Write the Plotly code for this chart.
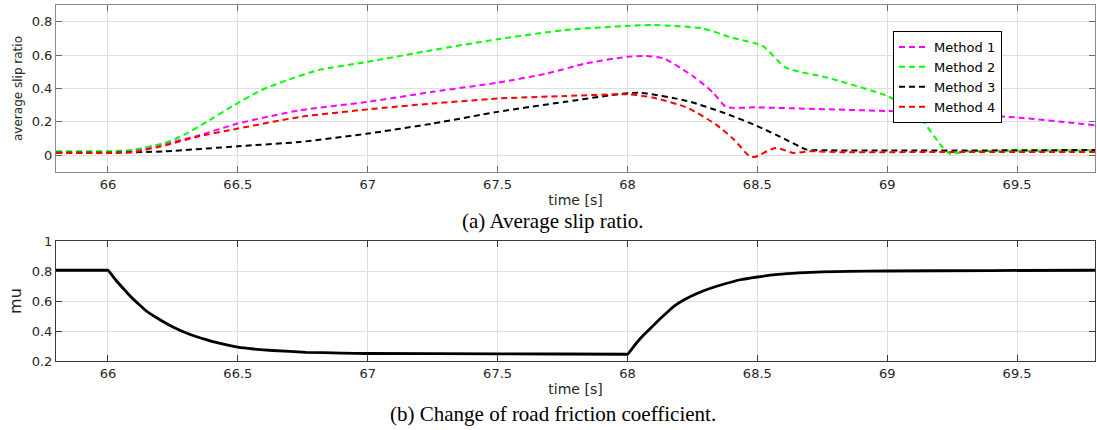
import plotly.graph_objects as go

# ---- data ----
t1 = [65.8, 66.0, 66.1, 66.22, 66.34, 66.5, 66.74, 67.0, 67.25, 67.5, 67.69, 67.84, 68.0, 68.07, 68.14, 68.26, 68.33, 68.38, 68.5, 69.0, 69.31, 69.51, 69.8]
v1 = [0.02, 0.02, 0.03, 0.07, 0.115, 0.19, 0.27, 0.32, 0.38, 0.435, 0.49, 0.55, 0.59, 0.595, 0.58, 0.465, 0.375, 0.29, 0.287, 0.265, 0.245, 0.225, 0.18]

t2 = [65.8, 66.0, 66.08, 66.12, 66.22, 66.29, 66.38, 66.485, 66.59, 66.69, 66.81, 67.0, 67.25, 67.5, 67.76, 68.0, 68.1, 68.29, 68.4, 68.52, 68.61, 68.77, 69.0, 69.11, 69.21, 69.24, 69.31, 69.5, 69.8]
v2 = [0.025, 0.025, 0.03, 0.04, 0.074, 0.12, 0.2, 0.3, 0.39, 0.45, 0.51, 0.56, 0.63, 0.695, 0.75, 0.775, 0.78, 0.76, 0.705, 0.655, 0.525, 0.465, 0.355, 0.255, 0.054, 0.01, 0.024, 0.027, 0.03]

t3 = [65.8, 66.0, 66.22, 66.5, 66.74, 67.0, 67.25, 67.5, 67.76, 68.04, 68.23, 68.37, 68.5, 68.61, 68.69, 68.77, 69.0, 69.5, 69.8]
v3 = [0.015, 0.015, 0.024, 0.054, 0.08, 0.13, 0.19, 0.26, 0.32, 0.375, 0.325, 0.255, 0.175, 0.094, 0.034, 0.03, 0.028, 0.03, 0.032]

t4 = [65.8, 66.0, 66.1, 66.22, 66.34, 66.5, 66.74, 67.0, 67.25, 67.5, 67.76, 68.0, 68.1, 68.23, 68.34, 68.41, 68.47, 68.49, 68.57, 68.64, 68.70, 68.84, 69.2, 69.8]
v4 = [0.015, 0.015, 0.02, 0.06, 0.11, 0.16, 0.23, 0.275, 0.31, 0.34, 0.355, 0.365, 0.345, 0.285, 0.185, 0.094, -0.006, -0.01, 0.044, 0.014, 0.024, 0.018, 0.02, 0.02]

mu_t = [65.8, 65.995, 66.0, 66.03, 66.058, 66.09, 66.122, 66.15, 66.186, 66.22, 66.25, 66.314, 66.378, 66.42, 66.5, 66.56, 66.635, 66.763, 66.9, 67.0, 67.5, 67.995, 68.0,
        68.03, 68.055, 68.09, 68.12, 68.15, 68.18, 68.22, 68.27, 68.32, 68.376, 68.43, 68.5, 68.58, 68.66, 68.75, 68.85, 69.0, 69.4, 69.8]
mu = [0.805, 0.805, 0.805, 0.74, 0.685, 0.625, 0.573, 0.53, 0.49, 0.455, 0.427, 0.378, 0.342, 0.322, 0.292, 0.28, 0.27, 0.258, 0.253, 0.25, 0.248, 0.245, 0.245,
      0.31, 0.36, 0.42, 0.472, 0.52, 0.566, 0.61, 0.652, 0.685, 0.715, 0.74, 0.76, 0.777, 0.787, 0.794, 0.798, 0.80, 0.803, 0.805]

names = ["Method 1", "Method 2", "Method 3", "Method 4"]
colors = ["#ff00ff", "#00ff00", "#000000", "#ff0000"]
xticks = [66, 66.5, 67, 67.5, 68, 68.5, 69, 69.5]
xticklabels = ["66", "66.5", "67", "67.5", "68", "68.5", "69", "69.5"]
yticks_a = [0, 0.2, 0.4, 0.6, 0.8]
yticklabels_a = ["0", "0.2", "0.4", "0.6", "0.8"]
yticks_b = [0.2, 0.4, 0.6, 0.8, 1.0]
yticklabels_b = ["0.2", "0.4", "0.6", "0.8", "1"]

W, H = 1097, 430
fig = go.Figure()
for t, v, n, c in zip([t1, t2, t3, t4], [v1, v2, v3, v4], names, colors):
    fig.add_trace(go.Scatter(x=t, y=v, name=n, mode="lines",
                             line=dict(color=c, width=2, dash="6px,4px", shape="spline", smoothing=0.6),
                             xaxis="x", yaxis="y"))
fig.add_trace(go.Scatter(x=mu_t, y=mu, mode="lines", showlegend=False,
                         line=dict(color="#000000", width=2.8, shape="spline", smoothing=0.5),
                         xaxis="x2", yaxis="y2"))

tickfont = dict(family="DejaVu Sans", size=13, color="#262626")
titlefont = dict(family="DejaVu Sans", size=14, color="#262626")
common_x = dict(range=[65.8, 69.8], tickvals=xticks, ticktext=xticklabels, showgrid=True,
                gridcolor="#dedede", gridwidth=1, ticks="inside", ticklen=6, tickwidth=1,
                showline=True, mirror="ticks", zeroline=False, tickfont=tickfont,
                domain=[56 / W, 1095 / W], automargin=False)
common_y = dict(showgrid=True, gridcolor="#dedede", gridwidth=1, ticks="inside", ticklen=6,
                tickwidth=1, showline=True, mirror="ticks", zeroline=False, tickfont=tickfont,
                automargin=False)

fig.update_layout(
    width=W, height=H, margin=dict(l=0, r=0, t=0, b=0),
    paper_bgcolor="white", plot_bgcolor="white",
    xaxis=dict(**common_x, anchor="y", linecolor="#8a8a8a", tickcolor="#6a6a6a",
               title=dict(text="time [s]", font=titlefont, standoff=4)),
    yaxis=dict(**common_y, range=[-0.1, 0.9], tickvals=yticks_a, ticktext=yticklabels_a,
               domain=[1 - 172 / H, 1 - 5 / H], anchor="x", linecolor="#8a8a8a", tickcolor="#6a6a6a",
               title=dict(text="average slip ratio", font=dict(family="DejaVu Sans", size=12, color="#262626"), standoff=6)),
    xaxis2=dict(**common_x, anchor="y2", linecolor="#3a3a3a", tickcolor="#3a3a3a",
                title=dict(text="time [s]", font=titlefont, standoff=4)),
    yaxis2=dict(**common_y, range=[0.2, 1.0], tickvals=yticks_b, ticktext=yticklabels_b,
                domain=[1 - 361 / H, 1 - 241 / H], anchor="x2", linecolor="#3a3a3a", tickcolor="#3a3a3a",
                title=dict(text="mu", font=dict(family="DejaVu Sans", size=16, color="#262626"), standoff=6)),
    legend=dict(x=893 / W, y=1 - 31 / H, xanchor="left", yanchor="top",
                bgcolor="white", bordercolor="#000000", borderwidth=1,
                font=dict(family="DejaVu Sans", size=13, color="#000000"),
                tracegroupgap=0, itemwidth=30),
    annotations=[
        dict(text="(a) Average slip ratio.", x=553 / W, y=1 - 221 / H, xref="paper", yref="paper",
             showarrow=False, xanchor="center", yanchor="middle",
             font=dict(family="Liberation Serif", size=21, color="#000000")),
        dict(text="(b) Change of road friction coefficient.", x=553 / W, y=1 - 414 / H, xref="paper", yref="paper",
             showarrow=False, xanchor="center", yanchor="middle",
             font=dict(family="Liberation Serif", size=21, color="#000000")),
    ],
)

fig.write_html("out.html")
